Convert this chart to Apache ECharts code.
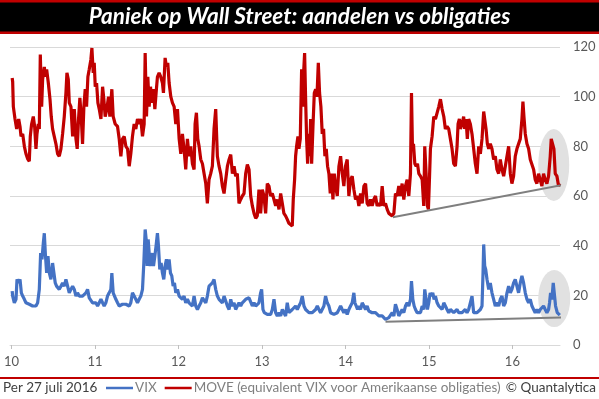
<!DOCTYPE html>
<html><head><meta charset="utf-8">
<script src="https://cdn.jsdelivr.net/npm/echarts@6/dist/echarts.min.js"></script>
<style>html,body{margin:0;padding:0;background:#fff}#c{width:599px;height:399px}</style>
</head><body><div id="c"></div>
<script>
// x values: years since 1 Jan 2010
const titleText = 'Paniek op Wall Street: aandelen vs obligaties';
const yearLabels = ['10','11','12','13','14','15','16'];
const yearTicks = [0,1,2,3,4,5,6];
const vixName = 'VIX';
const moveName = 'MOVE (equivalent VIX voor Amerikaanse obligaties)';
const asOfText = 'Per 27 juli 2016';
const sourceText = '\u00A9 Quantalytica';

const moveT = [0.008,0.014,0.022,0.042,0.062,0.086,0.102,0.114,0.134,0.154,0.173,0.193,0.213,0.225,0.241,0.261,0.277,0.293,0.305,0.321,0.333,0.345,0.361,0.373,0.393,0.405,0.421,0.441,0.461,0.476,0.492,0.512,0.532,0.552,0.572,0.592,0.612,0.632,0.652,0.664,0.680,0.692,0.712,0.732,0.752,0.772,0.787,0.803,0.819,0.835,0.851,0.867,0.883,0.899,0.915,0.931,0.951,0.963,0.979,0.991,1.003,1.019,1.035,1.051,1.071,1.091,1.106,1.122,1.142,1.162,1.178,1.202,1.218,1.242,
1.270,1.290,1.310,1.330,1.350,1.370,1.390,1.410,1.429,1.449,1.469,1.489,1.509,1.529,1.549,1.569,1.589,1.601,1.617,1.633,1.649,1.665,1.681,1.701,1.717,1.732,1.748,1.768,1.788,1.808,1.820,1.840,1.856,1.872,1.888,1.908,1.928,1.948,1.968,1.988,2.008,2.028,2.047,2.067,2.087,2.107,2.127,2.147,2.167,2.187,2.199,2.215,2.231,2.247,2.267,2.287,2.307,2.327,2.346,2.366,2.386,2.406,2.426,2.446,2.466,2.486,2.506,2.526,2.546,
2.566,2.586,2.606,2.626,2.646,2.666,2.685,2.705,2.725,2.745,2.765,2.785,2.805,2.825,2.845,2.865,2.885,2.905,2.925,2.944,2.964,2.984,3.004,3.024,3.044,3.064,3.084,3.104,3.124,3.144,3.164,3.184,3.204,3.224,3.244,3.263,3.283,3.303,3.323,3.343,3.363,3.375,3.391,3.403,3.415,3.431,3.443,3.459,3.475,3.487,3.499,3.511,3.523,3.535,3.547,3.559,3.571,3.583,3.595,3.611,3.627,3.643,3.659,3.675,3.690,3.706,3.722,3.738,3.754,3.770,3.786,3.802,3.818,3.834,3.850,3.866,3.882,
3.902,3.922,3.942,3.962,3.981,4.001,4.021,4.041,4.061,4.081,4.101,4.121,4.141,4.161,4.181,4.201,4.221,4.241,4.260,4.280,4.300,4.320,4.340,4.360,4.380,4.400,4.420,4.440,4.460,4.480,4.500,4.520,4.540,4.560,4.580,4.599,4.619,4.639,4.659,4.679,4.699,4.719,4.739,4.759,4.779,4.791,4.803,4.815,4.831,4.847,4.863,4.879,4.899,4.919,4.938,4.950,4.966,4.982,4.994,5.006,5.018,5.038,5.058,5.078,5.098,5.118,5.138,5.158,5.178,
5.197,5.217,5.237,5.257,5.277,5.297,5.317,5.337,5.349,5.365,5.377,5.397,5.416,5.428,5.444,5.460,5.476,5.496,5.516,5.536,5.556,5.576,5.596,5.616,5.636,5.656,5.668,5.684,5.700,5.716,5.735,5.755,5.775,5.795,5.815,5.835,5.855,5.875,5.895,5.915,5.935,5.955,5.975,5.994,6.014,6.034,6.054,6.074,6.094,6.114,6.126,6.138,6.154,6.174,6.194,6.214,6.234,6.254,6.273,6.293,6.313,6.333,6.353,6.373,6.393,6.413,6.433,6.453,6.465,6.481,6.497,6.513,6.533,6.553,6.568];
const moveV = [107.5,106,96,91,87,91,88,84,85,80,77,75,74,84,89,92,88,79,85,89,87,117,96,107,112,108,111,105.5,99,92,87,84,81,77,76,79,85,92,101.5,109.6,107,97.5,96,84,95,83,79,91,99.5,92,81,96,103,96,108,111,115,119.6,109.6,113.6,104,105.5,97.5,95,91,104,99,92,95,100,92,103,92,89,
88,83,76,83,84,80,79,72,77,84,89,87,91,89,91,84,89,117.6,92,108,96,104,97.5,103,95,101.5,108,109.6,108,105.5,101.5,115.6,112,113.6,105.5,100,97.5,96,89,95,83,77,85,79,70.7,83,76,80,73,70.7,89,93.5,83,80,74.7,73,69,65,57,66.6,69,72,87,95,76,72,69,64,61,
66.6,72,74.7,76.7,69,72,68,69,57,58.6,60,61,69,72.7,70.7,60,56,53,51,52,62.6,53,62.6,60,53,65,64,60,61,58.6,56,58.6,54.6,61,57,53,52,50.6,49,48.5,47.9,58.6,66.6,76,80,84,79,83,111,96,109.6,117.6,99,83,73,85,76,91,73,88,101.5,103,100,113.6,101.5,96,85,87,76,79,72,69,61,69,58.6,69,64,
60,72,76,69,64,72,74.7,60,66.6,68,62.6,58.6,60,56,61,57,64,65,57,56,58.6,56,58.6,60,56,57,56,64,56,57,54.6,53,52.6,52,53,61,60,64,60,65,58.6,64,66.6,60,69,101.5,79,81,73,72,73,69,68,66.6,56,80,69,56,54.6,66.6,79,84,92,91,93.5,96,99,95,92,
87,88,87,83,79,73,72,80,89,91,87,89,92,87,91,83,91,89,85,79,73,69,80,77,83,94,93.5,87,81,79,81,79,74.7,76,70.7,69,74.7,70.7,68,72,76,80,69,65,68,76,79,79,83,91,98,92,85,81,79,74.7,74.7,70.7,66.6,65,69,66.6,64,69,66.6,65,68,76,83,81,79,69,68,64,65];

const vixT = [0.008,0.014,0.034,0.054,0.066,0.082,0.102,0.118,0.134,0.154,0.173,0.193,0.213,0.233,0.253,0.273,0.293,0.313,0.333,0.349,0.365,0.381,0.393,0.405,0.421,0.437,0.453,0.472,0.492,0.508,0.524,0.540,0.556,0.572,0.592,0.612,0.632,0.652,0.672,0.692,0.712,0.732,0.752,0.772,0.791,0.811,0.831,0.851,0.871,0.891,0.911,0.931,0.951,0.971,0.991,1.011,1.031,1.051,1.071,1.091,1.110,1.130,1.150,1.170,1.190,1.202,1.218,1.234,
1.250,1.270,1.290,1.310,1.330,1.350,1.370,1.390,1.410,1.429,1.449,1.469,1.489,1.509,1.529,1.549,1.569,1.585,1.601,1.613,1.625,1.637,1.649,1.661,1.677,1.689,1.701,1.717,1.732,1.748,1.760,1.776,1.792,1.808,1.824,1.840,1.856,1.872,1.888,1.904,1.920,1.936,1.952,1.968,1.988,2.008,2.028,2.047,2.067,2.087,2.107,2.127,2.147,2.167,2.187,2.207,2.227,2.247,2.267,2.287,2.307,2.327,2.346,2.366,2.386,2.406,2.426,2.446,2.466,2.486,2.506,2.526,2.546,
2.566,2.586,2.606,2.626,2.646,2.666,2.685,2.705,2.725,2.745,2.765,2.785,2.805,2.825,2.845,2.865,2.885,2.905,2.925,2.944,2.964,2.984,2.996,3.012,3.028,3.044,3.064,3.084,3.104,3.124,3.144,3.164,3.184,3.204,3.224,3.244,3.263,3.283,3.303,3.323,3.343,3.363,3.383,3.403,3.423,3.443,3.463,3.483,3.503,3.523,3.543,3.563,3.583,3.603,3.623,3.643,3.663,3.682,3.702,3.722,3.742,3.762,3.782,3.802,3.822,3.842,3.862,3.882,
3.902,3.922,3.942,3.962,3.981,4.001,4.021,4.041,4.061,4.081,4.101,4.113,4.129,4.145,4.161,4.181,4.201,4.221,4.241,4.260,4.280,4.300,4.320,4.340,4.360,4.380,4.400,4.420,4.440,4.460,4.480,4.500,4.520,4.540,4.560,4.580,4.599,4.619,4.639,4.659,4.679,4.699,4.719,4.739,4.759,4.779,4.791,4.807,4.823,4.839,4.859,4.879,4.899,4.919,4.938,4.950,4.966,4.982,4.998,5.014,5.030,5.046,5.062,5.078,5.098,5.118,5.138,5.158,5.178,
5.197,5.217,5.237,5.257,5.277,5.297,5.317,5.337,5.357,5.377,5.397,5.416,5.436,5.456,5.476,5.496,5.516,5.536,5.556,5.576,5.596,5.616,5.636,5.648,5.656,5.668,5.680,5.696,5.716,5.735,5.755,5.775,5.795,5.815,5.835,5.855,5.875,5.895,5.915,5.935,5.955,5.975,5.994,6.014,6.034,6.054,6.074,6.094,6.114,6.134,6.154,6.174,6.194,6.214,6.234,6.254,6.273,6.293,6.313,6.333,6.353,6.373,6.393,6.413,6.433,6.445,6.457,6.473,6.489,6.501,6.517,6.537,6.553,6.568];
const vixV = [21.7,19.7,17,18.4,26.4,25,26.4,21,19.7,18.4,17,17,16.4,17,15.7,16.4,15.7,17,22.4,37,34.5,41,45,37,29,35.8,29,26.4,33,29,25,23.7,23.7,22.4,23.7,25,23.7,26.4,23.7,21,22.4,23.7,22.4,19.7,21,19.7,19,19.7,19.7,21,22.4,19,18.4,17,16.4,17,15.7,17,18.4,17,15.7,17,19.7,21,22.4,29,21,19.7,
18.4,17,15.7,15,16.4,17,16.4,17,15.7,17,21,19.7,18.4,17,18.4,19.7,22.4,33,46.5,42.5,31.8,42.5,37,31.8,34.5,37,31.8,35.8,40,45,40,30.4,33,29,26.4,31.8,34.5,30.4,34.5,29,27.8,23.7,25,21,22.4,19.7,19.7,18.4,19.7,17,18.4,17,17.7,15.7,19.7,15.7,14.3,15.7,17,19,18.4,17,19.7,23.7,23,25,26.4,22.4,19.7,18.4,18.4,17,19.7,
19.7,15.7,14.3,18.4,15.7,17,14.3,15.7,17,15.7,17,16.4,18.4,17.7,19,18.4,15.7,17,15.7,16.4,17,21,22.4,14.3,13,13,12.3,13,12.3,14.3,18.4,13,11.7,13,11.7,14.3,13,11.7,17,13,12.3,14.3,14.3,15.7,14.3,15.7,17,19.7,15.7,14.3,15,13,12.3,13,12.3,14.3,15.7,14.3,13,13,15.7,19.7,17,15.7,13,13,12.3,12.3,
13,14.3,15.7,14.3,13,14.3,12.3,14.3,15.7,17,21,17,15.7,14.3,15.7,14.3,17,15.7,14.3,15.7,13.7,14.3,13,13.7,13,12.3,11.7,11,11.7,11,10.3,10.3,11,11.7,13,11.7,16.4,14.3,11.7,13,14.3,13,15.7,17,15.7,18.4,25.7,18.4,15.7,14.3,13,13.7,13,15.7,14.3,22.4,18.4,14.3,17,21,19.7,21,18.4,19.7,17,15.7,16.4,14.3,17,
16.4,14.3,13,14.3,13.7,13,12.3,14.3,13,13.7,13,12.3,14.3,13,14.3,17,19.7,13,12.3,13,12.3,14.3,15.7,29,40.5,31.8,30.4,26.4,22.4,25,21,18.4,15.7,17,15.7,18.4,19.7,15.7,17,21,23.7,21,22.4,25,26.4,23.7,21,25,27.8,25,21,18.4,17,18.4,15.7,14.3,13,14.3,13,14.3,13.7,15.7,14.3,13,14.3,17,21,18.4,25,21,15.7,13,12.3,12];

// annotation overlays (trend lines and highlight ellipses), in data units
const moveTrendT = [4.567, 6.681], moveTrendV = [51.4, 65];
const vixTrendT = [4.480, 6.657], vixTrendV = [9.4, 11.1];
const highlightT = [6.495, 6.501], highlightV = [72.5, 18.7];

const zip = (a, b) => a.map((t, i) => [t, b[i]]);
const FONT = 'Lato';
const chart = echarts.init(document.getElementById('c'), null, {renderer: 'canvas'});
chart.setOption({
  animation: false,
  backgroundColor: '#ffffff',
  textStyle: {fontFamily: FONT},
  graphic: [
    {type: 'rect', shape: {x: 0, y: 0, width: 599, height: 34}, style: {fill: '#c00000'}, z: 0, silent: true},
    {type: 'rect', shape: {x: 0, y: 2.5, width: 599, height: 29}, style: {fill: '#000000'}, z: 1, silent: true},
    {type: 'rect', shape: {x: 0, y: 377, width: 599, height: 2}, style: {fill: '#c00000'}, silent: true},
    {type: 'text', left: 3, top: 381, style: {text: asOfText, fill: '#404040', font: '13.5px ' + FONT}, silent: true},
    {type: 'text', right: 3, top: 381, style: {text: sourceText, fill: '#404040', font: '13.5px ' + FONT}, silent: true}
  ],
  title: {
    text: titleText, left: 'center', top: 4, padding: 0,
    textStyle: {color: '#ffffff', fontFamily: FONT, fontStyle: 'italic', fontWeight: 'bold', fontSize: 22.5, lineHeight: 26}
  },
  legend: {
    data: [vixName, moveName], left: 106, top: 381, padding: 0, itemGap: 8,
    icon: 'rect', itemWidth: 27, itemHeight: 2.5,
    textStyle: {color: '#808080', fontSize: 13.5, fontFamily: FONT, padding: [0, 0, 0, -3]},
    selectedMode: false
  },
  grid: {left: 10, right: 39, top: 47, bottom: 54, containLabel: false},
  xAxis: {
    type: 'value', min: -0.018, max: 6.57,
    splitLine: {show: false},
    axisLine: {show: true, lineStyle: {color: '#d9d9d9'}},
    axisTick: {show: true, customValues: yearTicks, length: 4, lineStyle: {color: '#bfbfbf'}},
    axisLabel: {customValues: yearTicks, formatter: v => yearLabels[Math.round(v)] || '', color: '#595959', fontSize: 13, margin: 10, fontFamily: FONT}
  },
  yAxis: {
    type: 'value', position: 'right', min: 0, max: 120, interval: 20,
    axisLine: {show: false}, axisTick: {show: false},
    splitLine: {lineStyle: {color: '#d9d9d9', width: 1}},
    axisLabel: {color: '#595959', fontSize: 13, margin: 13, align: 'left', fontFamily: FONT}
  },
  series: [
    {name: 'highlight', type: 'scatter', silent: true, symbol: 'circle',
     data: [{value: [highlightT[0], highlightV[0]], symbolSize: [31, 72]}, {value: [highlightT[1], highlightV[1]], symbolSize: [32, 57]}],
     itemStyle: {color: '#e1e1e1', opacity: 1}, emphasis: {disabled: true}},
    {name: vixName, type: 'line', data: zip(vixT, vixV), showSymbol: false, symbol: 'none', silent: true,
     color: '#4472c4', lineStyle: {color: '#4472c4', width: 3.2}, emphasis: {disabled: true}},
    {name: moveName, type: 'line', data: zip(moveT, moveV), showSymbol: false, symbol: 'none', silent: true,
     color: '#c00000', lineStyle: {color: '#c00000', width: 3.2}, emphasis: {disabled: true}},
    {name: 'trendMove', type: 'line', data: zip(moveTrendT, moveTrendV), clip: false, showSymbol: false, symbol: 'none', silent: true,
     lineStyle: {color: '#7f7f7f', width: 2}, emphasis: {disabled: true}},
    {name: 'trendVix', type: 'line', data: zip(vixTrendT, vixTrendV), clip: false, showSymbol: false, symbol: 'none', silent: true,
     lineStyle: {color: '#7f7f7f', width: 2}, emphasis: {disabled: true}}
  ]
});
</script></body></html>
